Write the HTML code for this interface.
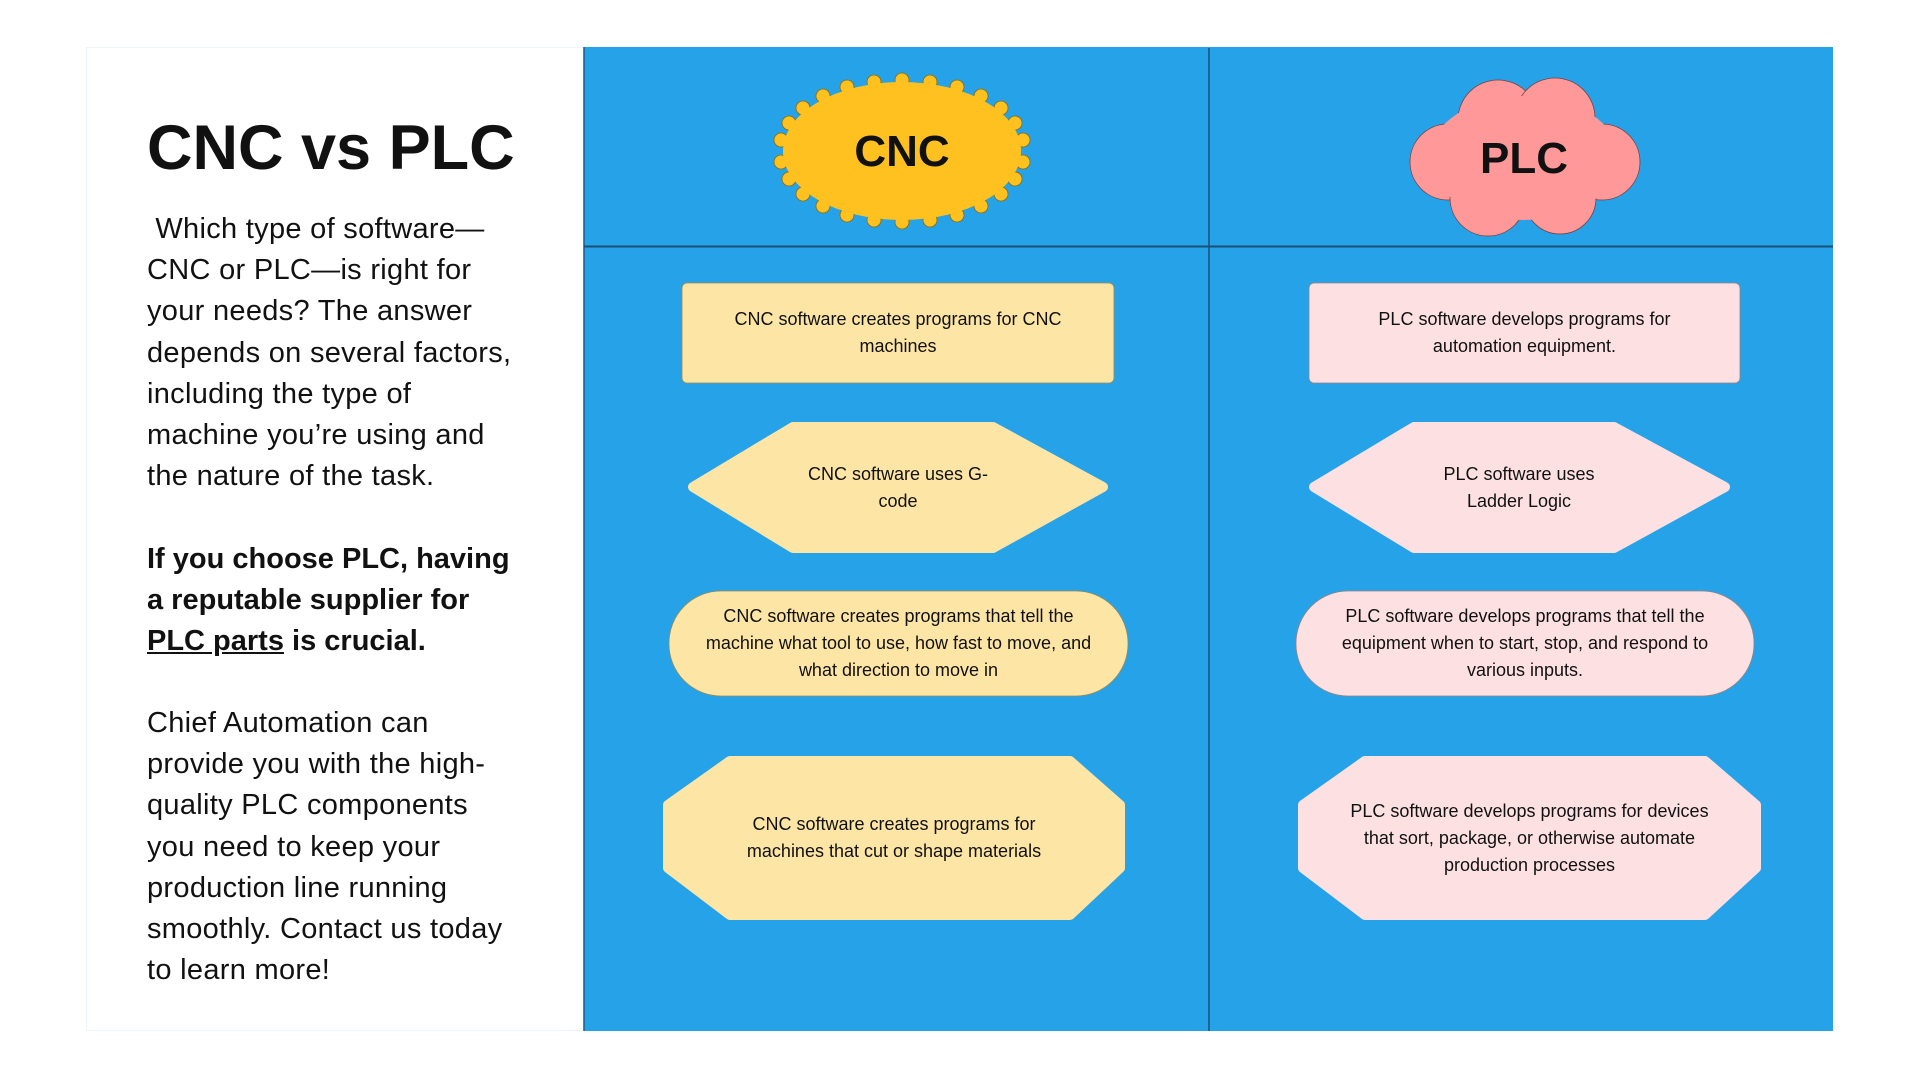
<!DOCTYPE html>
<html><head><meta charset="utf-8"><style>
html,body{margin:0;padding:0;width:1920px;height:1080px;background:#fff;overflow:hidden;font-family:"Liberation Sans",sans-serif}
.t{position:absolute;color:#111;text-align:center;font-size:18px;line-height:27px;display:flex;align-items:center;justify-content:center}
.left{position:absolute;left:147px;color:#111;font-size:29px;line-height:41.2px;letter-spacing:0.3px}
</style></head><body>
<div style="position:absolute;left:86px;top:47px;width:498px;height:984px;border:1px solid #eef4f8;box-sizing:border-box"></div>
<svg width="1920" height="1080" style="position:absolute;left:0;top:0">
<rect x="584" y="47" width="1249" height="984" fill="#26A3E8"/>
<line x1="584" y1="47" x2="584" y2="1031" stroke="#1a5f8a" stroke-width="1.5"/>
<line x1="584" y1="246.5" x2="1833" y2="246.5" stroke="#1a4f75" stroke-width="2"/>
<line x1="1209" y1="48" x2="1209" y2="1031" stroke="#1a4f75" stroke-width="1.5"/>
<!-- starburst -->
<g fill="#FEC11F" stroke="#8a6a10" stroke-width="0.8">
<circle cx="902" cy="80" r="7"/><circle cx="930" cy="82" r="7"/><circle cx="874" cy="82" r="7"/>
<circle cx="957" cy="87" r="7"/><circle cx="847" cy="87" r="7"/><circle cx="981" cy="96" r="7"/><circle cx="823" cy="96" r="7"/>
<circle cx="1001" cy="108" r="7"/><circle cx="803" cy="108" r="7"/><circle cx="1015" cy="123" r="7"/><circle cx="789" cy="123" r="7"/>
<circle cx="1023" cy="140" r="7"/><circle cx="781" cy="140" r="7"/><circle cx="1023" cy="162" r="7"/><circle cx="781" cy="162" r="7"/>
<circle cx="1015" cy="179" r="7"/><circle cx="789" cy="179" r="7"/><circle cx="1001" cy="194" r="7"/><circle cx="803" cy="194" r="7"/>
<circle cx="981" cy="206" r="7"/><circle cx="823" cy="206" r="7"/><circle cx="957" cy="215" r="7"/><circle cx="847" cy="215" r="7"/>
<circle cx="930" cy="220" r="7"/><circle cx="874" cy="220" r="7"/><circle cx="902" cy="222" r="7"/>
</g>
<ellipse cx="902" cy="151" rx="119" ry="69" fill="#FEC11F"/>
<!-- cloud -->
<g fill="#FF9999" stroke="#7a4040" stroke-width="0.8">
<circle cx="1498" cy="120" r="40"/><circle cx="1555" cy="118" r="40"/>
<circle cx="1448" cy="162" r="38"/><circle cx="1602" cy="162" r="38"/>
<circle cx="1488" cy="198" r="38"/><circle cx="1560" cy="198" r="36"/>
</g>
<ellipse cx="1524" cy="158" rx="95" ry="62" fill="#FF9999"/>
<!-- rects -->
<rect x="682" y="283" width="432" height="100" rx="5" fill="#FDE5A6" stroke="#9a8a50" stroke-width="0.8"/>
<rect x="1309" y="283" width="431" height="100" rx="5" fill="#FDE1E2" stroke="#9a8080" stroke-width="0.8"/>
<!-- hexagons -->
<path d="M693 487 L793 427 L993 427 L1103 487 L993 548 L793 548 Z" fill="#FDE5A6" stroke="#FDE5A6" stroke-width="10" stroke-linejoin="round"/>
<path d="M1314 487 L1414 427 L1614 427 L1725 487 L1614 548 L1414 548 Z" fill="#FDE1E2" stroke="#FDE1E2" stroke-width="10" stroke-linejoin="round"/>
<!-- stadiums -->
<rect x="669" y="591" width="459" height="105" rx="52" fill="#FDE5A6" stroke="#9a8a50" stroke-width="0.8"/>
<rect x="1296" y="591" width="458" height="105" rx="52" fill="#FDE1E2" stroke="#9a8080" stroke-width="0.8"/>
<!-- octagons -->
<path d="M730 761 L1070 761 L1120 805 L1120 868 L1070 915 L730 915 L668 868 L668 805 Z" fill="#FDE5A6" stroke="#FDE5A6" stroke-width="10" stroke-linejoin="round"/>
<path d="M1365 761 L1705 761 L1756 805 L1756 868 L1705 915 L1365 915 L1303 868 L1303 805 Z" fill="#FDE1E2" stroke="#FDE1E2" stroke-width="10" stroke-linejoin="round"/>
</svg>
<div class="t" style="left:800px;top:120px;width:204px;height:62px;font-size:44px;font-weight:bold">CNC</div>
<div class="t" style="left:1424px;top:127px;width:200px;height:62px;font-size:44px;font-weight:bold">PLC</div>
<div class="t" style="left:690px;top:283px;width:416px;height:100px">CNC software creates programs for CNC<br>machines</div>
<div class="t" style="left:1317px;top:283px;width:415px;height:100px">PLC software develops programs for<br>automation equipment.</div>
<div class="t" style="left:700px;top:427px;width:396px;height:121px">CNC software uses G-<br>code</div>
<div class="t" style="left:1320px;top:427px;width:398px;height:121px">PLC software uses<br>Ladder Logic</div>
<div class="t" style="left:669px;top:591px;width:459px;height:105px;font-size:18px">CNC software creates programs that tell the<br>machine what tool to use, how fast to move, and<br>what direction to move in</div>
<div class="t" style="left:1296px;top:591px;width:458px;height:105px;font-size:18px">PLC software develops programs that tell the<br>equipment when to start, stop, and respond to<br>various inputs.</div>
<div class="t" style="left:664px;top:758px;width:460px;height:160px">CNC software creates programs for<br>machines that cut or shape materials</div>
<div class="t" style="left:1299px;top:758px;width:461px;height:160px">PLC software develops programs for devices<br>that sort, package, or otherwise automate<br>production processes</div>
<div class="left" style="top:108px;font-size:63px;line-height:80px;font-weight:bold;letter-spacing:0">CNC vs PLC</div>
<div class="left" style="top:209px">&nbsp;Which type of software—<br>CNC or PLC—is right for<br>your needs? The answer<br>depends on several factors,<br>including the type of<br>machine you’re using and<br>the nature of the task.</div>
<div class="left" style="top:539px;font-weight:bold;letter-spacing:0">If you choose PLC, having<br>a reputable supplier for<br><u>PLC parts</u> is crucial.</div>
<div class="left" style="top:703px">Chief Automation can<br>provide you with the high-<br>quality PLC components<br>you need to keep your<br>production line running<br>smoothly. Contact us today<br>to learn more!</div>
</body></html>
